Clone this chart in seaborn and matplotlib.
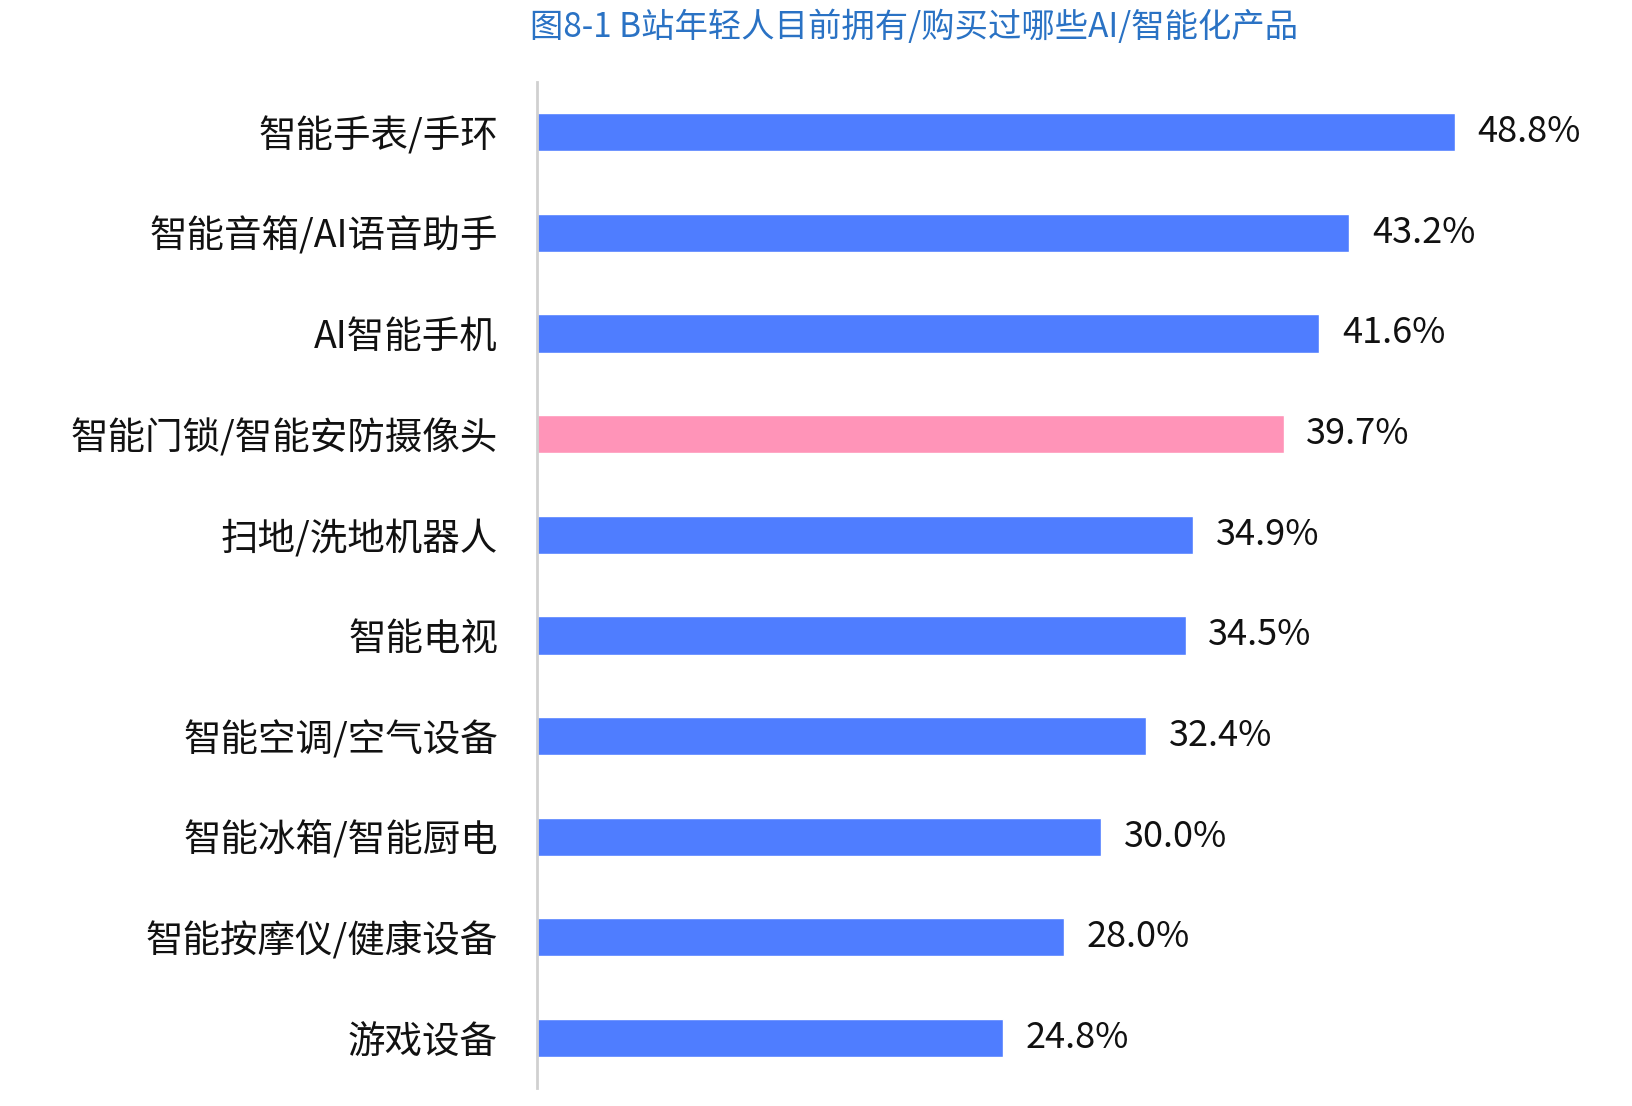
import matplotlib
matplotlib.use("Agg")
import matplotlib.pyplot as plt
import seaborn as sns
import pandas as pd

categories = ["智能手表/手环", "智能音箱/AI语音助手", "AI智能手机", "智能门锁/智能安防摄像头",
              "扫地/洗地机器人", "智能电视", "智能空调/空气设备", "智能冰箱/智能厨电",
              "智能按摩仪/健康设备", "游戏设备"]
values = [48.8, 43.2, 41.6, 39.7, 34.9, 34.5, 32.4, 30.0, 28.0, 24.8]
colors = ["#4f7dff"] * 10
colors[3] = "#ff94b8"

sns.set_theme(style="white")
plt.rcParams['font.family'] = ['Noto Sans CJK SC', 'DejaVu Sans']

df = pd.DataFrame({"cat": categories, "val": values})
fig = plt.figure(figsize=(16.32, 11.06), dpi=100)
ax = fig.add_axes([0.329, 0.016, 0.65, 0.91])
sns.barplot(data=df, x="val", y="cat", hue="cat", palette=colors, legend=False,
            width=0.38, ax=ax, saturation=1)
ax.set_xlim(0, 56.4)
ax.set_ylim(9.5, -0.5)
for i, v in enumerate(values):
    ax.text(v + 1.2, i, f"{v:.1f}%", va="center", ha="left", fontsize=26, color="#111111")
ax.set_xlabel(""); ax.set_ylabel("")
ax.set_xticks([])
ax.tick_params(axis="y", labelsize=27, colors="#111111", pad=28, length=0)
for s in ["top", "right", "bottom"]:
    ax.spines[s].set_visible(False)
ax.spines["left"].set_color("#d0d0d0")
ax.spines["left"].set_linewidth(2)
fig.text(0.56, 0.975, "图8-1 B站年轻人目前拥有/购买过哪些AI/智能化产品", ha="center", va="center",
         fontsize=24, color="#2a72c4")
fig.savefig("out.png", dpi=100)
